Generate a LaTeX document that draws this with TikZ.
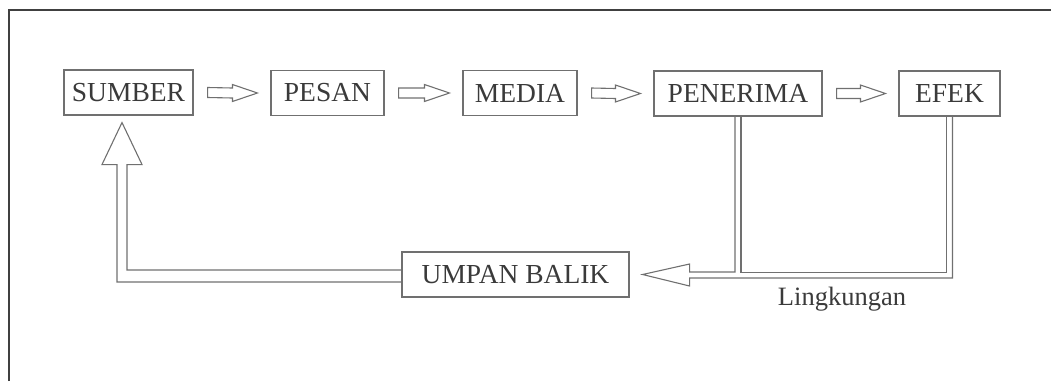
\documentclass[tikz,border=0pt]{standalone}
\usepackage{fontspec}
\setmainfont{Liberation Serif}
\usetikzlibrary{calc}

\definecolor{linegray}{HTML}{707070}
\definecolor{textgray}{HTML}{3A3A3A}

\tikzset{
  box/.style={draw=linegray,line width=1.1pt,text=textgray,minimum height=45pt,inner sep=0pt,font=\fontsize{27.5}{30}\selectfont},
  hollow/.style={draw=linegray,line width=1.1pt,line join=miter}
}

% small hollow arrow from one box to the next
\newcommand{\flowarrow}[2]{%
  \draw[hollow] ($(#1.east)+(14,-5)$) -- ($(#2.west)+(-38,-5)$) -- ($(#2.west)+(-38,-8.5)$)
    -- ($(#2.west)+(-13,0)$) -- ($(#2.west)+(-38,8.5)$) -- ($(#2.west)+(-38,5)$)
    -- ($(#1.east)+(14,5)$) -- cycle;}

\begin{document}
\begin{tikzpicture}[x=1pt,y=-1pt]
\useasboundingbox (0,0) rectangle (1051,381);

\draw[draw=black!75,line width=2.5pt] (9,381) -- (9,10) -- (1051,10);

\node[box,minimum width=129pt](sumber) at (128.5,92.5) {SUMBER};
\node[box,minimum width=113pt](pesan) at (327.5,93) {PESAN};
\node[box,minimum width=114pt](media) at (520,93) {MEDIA};
\node[box,minimum width=168pt](penerima) at (738,93.5) {PENERIMA};
\node[box,minimum width=101pt](efek) at (949.5,93.5) {EFEK};

\node[box,minimum width=227pt](umpan balik) at (515.5,274.5) {UMPAN BALIK};
\node[text=textgray,font=\fontsize{26.5}{30}\selectfont](lingkungan) at (842,299) {Lingkungan};

\flowarrow{sumber}{pesan}
\flowarrow{pesan}{media}
\flowarrow{media}{penerima}
\flowarrow{penerima}{efek}

\coordinate (fb head) at ($(umpan balik.east)+(60,0)$);
\coordinate (fb tip) at ($(sumber.south)+(-6.5,7)$);

\draw[hollow] ($(efek.south)+(3,0)$) |- ($(fb head)+(0,3.5)$) -- ($(fb head)+(0,11.5)$)
  -- ($(umpan balik.east)+(13,0)$) -- ($(fb head)+(0,-10.5)$) -- ($(fb head)+(0,-2.5)$)
  -| ($(penerima.south)+(-3,0)$);
\draw[hollow] ($(penerima.south)+(3,0)$) -- ++(0,156) -| ($(efek.south)+(-3,0)$);

\draw[hollow] ($(umpan balik.west)+(0,-4.5)$) -| ($(fb tip)+(5,42)$) -- ($(fb tip)+(20,42)$)
  -- (fb tip) -- ($(fb tip)+(-20,42)$) -- ($(fb tip)+(-5,42)$) |- ($(umpan balik.west)+(0,7.5)$);

\end{tikzpicture}
\end{document}
